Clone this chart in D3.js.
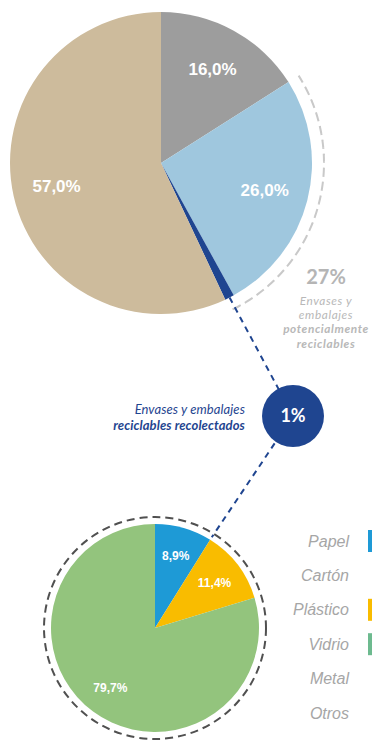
<!DOCTYPE html>
<html>
<head>
<meta charset="utf-8">
<script src="https://cdn.jsdelivr.net/npm/d3@7"></script>
<style>
  body { margin: 0; background: #fff; }
  svg { display: block; }
</style>
</head>
<body>
<div id="chart"></div>
<script>
const width = 372
const height = 740

// pie de arriba: composición de residuos
const topCategorias = ["Otros", "Envases potencialmente reciclables", "Envases recolectados", "Orgánicos"]
const topValores = [16, 26, 1, 57]
const topColores = ["#9d9d9d", "#9fc7de", "#1f4590", "#cdbb9c"]

// pie de abajo: envases recolectados por material
const bottomCategorias = ["Papel", "Plástico", "Vidrio"]
const bottomValores = [8.9, 11.4, 79.7]
const bottomColores = ["#1e9ad6", "#f9bc00", "#93c47d"]

// leyenda
const leyendaNombres = ["Papel", "Cartón", "Plástico", "Vidrio", "Metal", "Otros"]
const leyendaColores = ["#1e9ad6", null, "#f9bc00", "#6dba8f", null, null]

const totalPotencial = 27
const totalRecolectado = 1

const es = d3.formatLocale({decimal: ",", thousands: ".", grouping: [3], currency: ["", "€"]})
const fmt = es.format(".1f")

const svg = d3.select("#chart").append("svg")
    .attr("width", width)
    .attr("height", height)

const pie = d3.pie().sort(null).value(d => d)

// ---------- pie superior ----------
const cTop = {x: 161, y: 163}
const rTop = 151
const gTop = svg.append("g").attr("transform", `translate(${cTop.x},${cTop.y})`)
const arcsTop = pie(topValores)
const arcTop = d3.arc().innerRadius(0).outerRadius(rTop)
const labelArcTop = d3.arc().innerRadius(107).outerRadius(107)

gTop.selectAll(".slice")
    .data(arcsTop)
    .join("path")
    .attr("class", "slice")
    .attr("d", arcTop)
    .attr("fill", (d, i) => topColores[i])

gTop.selectAll(".lbl")
    .data(arcsTop.filter(d => d.value > 5))
    .join("text")
    .attr("class", "lbl")
    .attr("transform", d => `translate(${labelArcTop.centroid(d)})`)
    .attr("dy", "0.35em")
    .attr("text-anchor", "middle")
    .attr("fill", "#fff")
    .style("font", "bold 17px 'Liberation Sans', Arial, sans-serif")
    .text(d => fmt(d.value) + "%")

// arco punteado sobre los envases potencialmente reciclables
const arcDash = d3.arc().innerRadius(163).outerRadius(163)
    .startAngle(arcsTop[1].startAngle).endAngle(arcsTop[2].endAngle)
gTop.append("path")
    .attr("d", arcDash)
    .attr("fill", "none")
    .attr("stroke", "#c9c9c9")
    .attr("stroke-width", 2)
    .attr("stroke-dasharray", "8,6")

// texto 27%
const gNote = svg.append("g").attr("transform", "translate(326,0)")
gNote.append("text")
    .attr("y", 284)
    .attr("text-anchor", "middle")
    .attr("fill", "#b5b5b5")
    .style("font", "bold 20px Lato, sans-serif")
    .text(totalPotencial + "%")
const notaLineas = [["Envases y", false], ["embalajes", false], ["potencialmente", true], ["reciclables", true]]
gNote.selectAll(".nota")
    .data(notaLineas)
    .join("text")
    .attr("class", "nota")
    .attr("y", (d, i) => 305 + i * 14.2)
    .attr("text-anchor", "middle")
    .attr("fill", "#b8b8b8")
    .style("font-family", "Lato, sans-serif")
    .style("font-size", "11.8px")
    .style("letter-spacing", "0.6px")
    .style("font-style", "italic")
    .style("font-weight", d => d[1] ? "bold" : "normal")
    .text(d => d[0])

// ---------- círculo 1% ----------
const cMid = {x: 293, y: 416}
const rMid = 31

const aTip = (arcsTop[2].startAngle + arcsTop[2].endAngle) / 2
const tip = [cTop.x + rTop * Math.sin(aTip), cTop.y - rTop * Math.cos(aTip)]

const leader = (p0, p1) => svg.append("line")
    .attr("x1", p0[0]).attr("y1", p0[1])
    .attr("x2", p1[0]).attr("y2", p1[1])
    .attr("stroke", "#1f4590")
    .attr("stroke-width", 2)
    .attr("stroke-dasharray", "6,5")

leader(tip, [cMid.x, cMid.y])

// ---------- pie inferior ----------
const cBot = {x: 155, y: 628}
const rBot = 104
const arcsBot = pie(bottomValores)
const aJoin = arcsBot[0].endAngle
const joinPt = [cBot.x + 107 * Math.sin(aJoin), cBot.y - 107 * Math.cos(aJoin)]
leader([cMid.x, cMid.y], joinPt)

svg.append("circle")
    .attr("cx", cMid.x).attr("cy", cMid.y).attr("r", rMid)
    .attr("fill", "#1f4590")
svg.append("text")
    .attr("x", cMid.x).attr("y", cMid.y)
    .attr("dy", "0.35em")
    .attr("text-anchor", "middle")
    .attr("fill", "#fff")
    .style("font", "bold 18px Lato, sans-serif")
    .text(totalRecolectado + "%")

const recLineas = [["Envases y embalajes", false], ["reciclables recolectados", true]]
svg.selectAll(".rec")
    .data(recLineas)
    .join("text")
    .attr("class", "rec")
    .attr("x", 245)
    .attr("y", (d, i) => 414 + i * 15.6)
    .attr("text-anchor", "end")
    .attr("fill", "#1f4590")
    .style("font-family", "Lato, sans-serif")
    .style("font-size", "13px")
    .style("letter-spacing", "0.1px")
    .style("font-style", "italic")
    .style("font-weight", d => d[1] ? "bold" : "normal")
    .text(d => d[0])

const gBot = svg.append("g").attr("transform", `translate(${cBot.x},${cBot.y})`)
const arcBot = d3.arc().innerRadius(0).outerRadius(rBot)
const labelArcBot = d3.arc().innerRadius(75).outerRadius(75)

gBot.selectAll(".slice")
    .data(arcsBot)
    .join("path")
    .attr("class", "slice")
    .attr("d", arcBot)
    .attr("fill", (d, i) => bottomColores[i])

gBot.append("circle")
    .attr("r", 111)
    .attr("fill", "none")
    .attr("stroke", "#505050")
    .attr("stroke-width", 2)
    .attr("stroke-dasharray", "8,5")

gBot.selectAll(".lbl")
    .data(arcsBot)
    .join("text")
    .attr("class", "lbl")
    .attr("transform", d => `translate(${labelArcBot.centroid(d)})`)
    .attr("dy", "0.35em")
    .attr("text-anchor", "middle")
    .attr("fill", "#fff")
    .style("font", "bold 12px 'Liberation Sans', Arial, sans-serif")
    .text(d => fmt(d.value) + "%")

// ---------- leyenda ----------
const yLeyenda = d3.scalePoint()
    .domain(leyendaNombres)
    .range([541, 713])

const leg = svg.selectAll(".leg")
    .data(leyendaNombres)
    .join("g")
    .attr("class", "leg")
    .attr("transform", d => `translate(0,${yLeyenda(d)})`)

leg.append("text")
    .attr("x", 349)
    .attr("dy", "0.35em")
    .attr("text-anchor", "end")
    .attr("fill", "#a6a6a6")
    .style("font", "italic 16px 'Liberation Sans', Arial, sans-serif")
    .text(d => d)

leg.filter((d, i) => leyendaColores[i])
    .append("rect")
    .attr("x", 368)
    .attr("y", -11)
    .attr("width", 10)
    .attr("height", 22)
    .attr("fill", d => leyendaColores[leyendaNombres.indexOf(d)])
</script>
</body>
</html>
